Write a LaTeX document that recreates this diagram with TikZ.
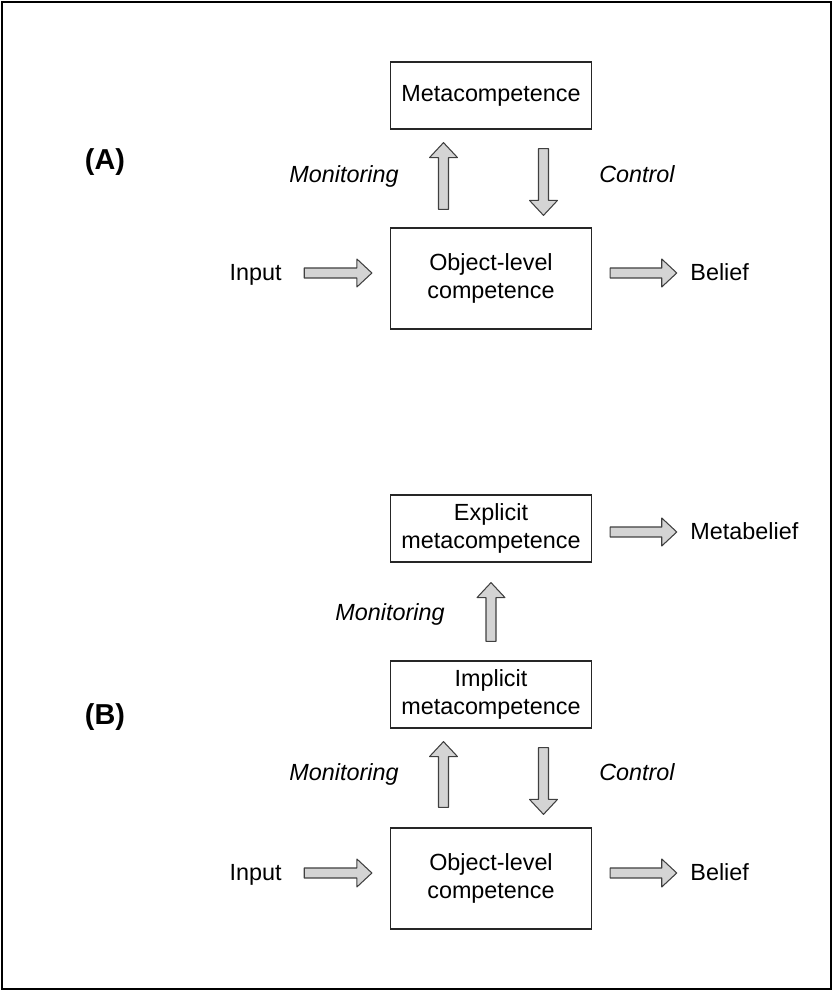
\documentclass[tikz,border=0pt]{standalone}
\usepackage{fontspec}
\setmainfont{Liberation Sans}
\usetikzlibrary{calc}

\begin{document}
\begin{tikzpicture}[
  box/.style={draw=black!85, line width=0.7pt, align=center,
    minimum width=4.02cm, font=\fontsize{13.3}{16}\selectfont},
  lbl/.style={font=\fontsize{13.3}{16}\selectfont, text height=1.02em, text depth=0.21em},
  ital/.style={lbl, font=\fontsize{13.3}{16}\selectfont\itshape},
  panel/.style={font=\fontsize{16.4}{19}\selectfont\bfseries},
  fatarrow/.style={draw=black!75, fill=black!17, line width=0.6pt, line join=round,
    to path={let \p1=(\tikztostart), \p2=(\tikztotarget),
      \n1={atan2(\y2-\y1,\x2-\x1)} in
      ($(\p1)+(\n1+90:0.1cm)$) -- ($(\p2)+(\n1+180:0.3cm)+(\n1+90:0.1cm)$)
      -- ($(\p2)+(\n1+180:0.3cm)+(\n1+90:0.28cm)$) -- (\p2)
      -- ($(\p2)+(\n1+180:0.3cm)+(\n1-90:0.28cm)$)
      -- ($(\p2)+(\n1+180:0.3cm)+(\n1-90:0.1cm)$)
      -- ($(\p1)+(\n1-90:0.1cm)$) -- cycle}}]
\useasboundingbox (0,0) rectangle (16.66,19.82);
\draw[line width=1pt] (0.04,0.04) rectangle (16.62,19.78);
% Panel (A)
\node[panel] (labA) at (2.1,16.58) {(A)};
\node[box, minimum height=1.34cm] (metaA) at (9.82,17.91) {Metacompetence};
\node[box, minimum height=2.02cm] (objA) at (9.82,14.25) {Object-level\\competence};
\node[lbl, anchor=east] (inA) at (5.755,14.36) {Input};
\node[lbl, anchor=west] (belA) at (13.685,14.36) {Belief};
\node[ital] (monA) at (6.88,16.32) {Monitoring};
\node[ital] (conA) at (12.74,16.32) {Control};
% Arrows (A)
\draw[fatarrow] ([shift={(-0.95,0.36)}]objA.north) to ([shift={(-0.95,-0.26)}]metaA.south);
\draw[fatarrow] ([shift={(1.05,-0.38)}]metaA.south) to ([shift={(1.05,0.24)}]objA.north);
\draw[fatarrow] ([xshift=0.33cm]inA.east) to ([shift={(-0.36,0.11)}]objA.west);
\draw[fatarrow] ([shift={(0.36,0.11)}]objA.east) to ([xshift=-0.15cm]belA.west);
% Panel (B)
\node[panel] (labB) at (2.1,5.48) {(B)};
\node[box, minimum height=1.34cm] (explB) at (9.82,9.25) {Explicit\\metacompetence};
\node[box, minimum height=1.34cm] (implB) at (9.82,5.93) {Implicit\\metacompetence};
\node[box, minimum height=2.02cm] (objB) at (9.82,2.25) {Object-level\\competence};
\node[lbl, anchor=west] (mbelB) at (13.685,9.18) {Metabelief};
\node[ital] (monB1) at (7.8,7.56) {Monitoring};
\node[ital] (monB2) at (6.88,4.36) {Monitoring};
\node[ital] (conB) at (12.74,4.36) {Control};
\node[lbl, anchor=east] (inB) at (5.755,2.36) {Input};
\node[lbl, anchor=west] (belB) at (13.685,2.36) {Belief};
% Arrows (B)
\draw[fatarrow] ([shift={(0.36,-0.07)}]explB.east) to ([xshift=-0.15cm]mbelB.west);
\draw[fatarrow] ([yshift=0.38cm]implB.north) to ([yshift=-0.4cm]explB.south);
\draw[fatarrow] ([shift={(-0.95,0.4)}]objB.north) to ([shift={(-0.95,-0.26)}]implB.south);
\draw[fatarrow] ([shift={(1.05,-0.38)}]implB.south) to ([shift={(1.05,0.26)}]objB.north);
\draw[fatarrow] ([xshift=0.33cm]inB.east) to ([shift={(-0.36,0.11)}]objB.west);
\draw[fatarrow] ([shift={(0.36,0.11)}]objB.east) to ([xshift=-0.15cm]belB.west);
\end{tikzpicture}
\end{document}
